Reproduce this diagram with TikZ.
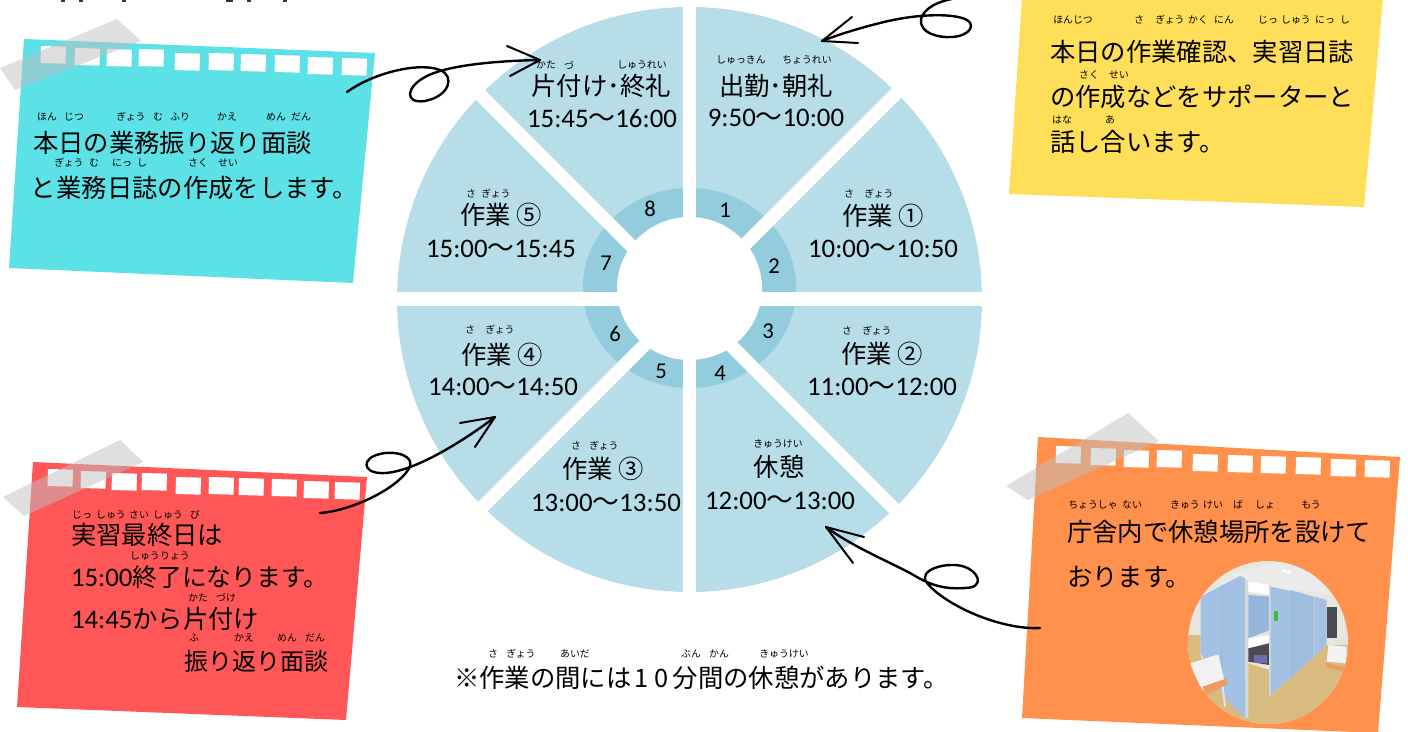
\documentclass[tikz,border=0pt]{standalone}
\usepackage{fontspec}
\setmainfont{Carlito}
\newfontfamily\cjk{Noto Sans CJK JP}
\usetikzlibrary{arrows.meta,calc}
\definecolor{wheelLight}{HTML}{B7DDE8}
\definecolor{wheelDark}{HTML}{93CDDD}
\definecolor{noteCyan}{HTML}{5CE1E6}
\definecolor{noteYellow}{HTML}{FFDE59}
\definecolor{noteRed}{HTML}{FF5757}
\definecolor{noteOrange}{HTML}{FF914D}
\definecolor{phWall}{HTML}{A3C1E2}
\definecolor{phWallB}{HTML}{94B6DC}
\definecolor{phFloor}{HTML}{D9BB80}
\definecolor{phBack}{HTML}{E9E6DF}
\definecolor{phSeat}{HTML}{EE9A62}
\definecolor{phDark}{HTML}{4A4A55}
\definecolor{phPurple}{HTML}{6E6BB0}
\tikzset{
  x=0.75pt,y=-0.75pt,
  base/.style={inner sep=0pt,outer sep=0pt,text=black},
  jp/.style={base,anchor=west,font=\cjk\fontsize{19}{19}\selectfont},
  jpc/.style={base,anchor=center,font=\cjk\fontsize{19}{19}\selectfont},
  tm/.style={base,anchor=center,font=\fontsize{20.1}{20.1}\selectfont},
  num/.style={base,anchor=center,font=\fontsize{17}{17}\selectfont},
  ruby/.style={base,anchor=center,font=\cjk\fontsize{7.4}{7.4}\selectfont},
  spoke/.style={draw=white,line width=10pt},
  hole/.style={fill=white,draw=none},
  tape/.style={fill=black!25,fill opacity=.5,draw=none},
  scribble/.style={draw=black,line width=1.8pt,line cap=round,line join=round},
  barb/.style={draw=black,line width=1.5pt,line cap=round},
}
\newcommand{\rb}[3]{\node[ruby] at (#1,#2) {#3};}
\newcommand{\hl}[2]{\fill[hole,rotate around={-1.5:(#1,#2)}] (#1,#2) rectangle ++(25,17);}
\newcommand{\wv}{{\cjk 〜}}
\begin{document}
\begin{tikzpicture}
\useasboundingbox (0,0) rectangle (1408,731);
\clip (0,0) rectangle (1408,731);
% ---------- title fragments at the top edge
\foreach \a/\b in {61/65,79/83,122/126,226/233,247/251,283/287}
  \fill[black!80] (\a,0) rectangle (\b,2);
% ---------- wheel
\coordinate (hub) at (689.5,299.5);
\fill[wheelLight] (hub) circle [radius=292.5];
\fill[wheelDark] (689.5,288) ellipse [x radius=106.7,y radius=100];
\fill[white] (689.5,288.5) ellipse [x radius=72.5,y radius=71.5];
\draw[spoke] (689.5,-10) -- (689.5,610);
\draw[spoke] (380,299) -- (1000,299);
\draw[spoke] (1000,-10.5) -- (380,609.5);
\draw[spoke] (380,-5.5) -- (1000,614.5);
% sector labels
\rb{741}{60}{しゅっきん}\rb{807}{60}{ちょうれい}
\node[jpc] (s1) at (776,86) {出勤･朝礼};
\node[tm] (t1) at (776,118) {9:50\wv10:00};
\rb{849}{194}{さ}\rb{879}{194}{ぎょう}
\node[jpc] (s2) at (883,216) {作業 ①};
\node[tm] (t2) at (883,249) {10:00\wv10:50};
\rb{847}{331}{さ}\rb{877}{331}{ぎょう}
\node[jpc] (s3) at (882,354) {作業 ②};
\node[tm] (t3) at (882,387) {11:00\wv12:00};
\rb{778}{444}{きゅうけい}
\node[jpc] (s4) at (779,467) {休憩};
\node[tm] (t4) at (780,501) {12:00\wv13:00};
\rb{576}{446}{さ}\rb{604}{446}{ぎょう}
\node[jpc] (s5) at (603,469) {作業 ③};
\node[tm] (t5) at (606,503) {13:00\wv13:50};
\rb{470}{330}{さ}\rb{500}{330}{ぎょう}
\node[jpc] (s6) at (502,355) {作業 ④};
\node[tm] (t6) at (503,387) {14:00\wv14:50};
\rb{471}{194}{さ}\rb{496}{194}{ぎょう}
\node[jpc] (s7) at (501,215) {作業 ⑤};
\node[tm] (t7) at (501,249) {15:00\wv15:45};
\rb{546}{65}{かた}\rb{569}{65}{づ}\rb{642}{65}{しゅうれい}
\node[jpc] (s8) at (601,86) {片付け･終礼};
\node[tm] (t8) at (602,119) {15:45\wv16:00};
\node[num] (n1) at (725,210) {1};
\node[num] (n2) at (774,266) {2};
\node[num] (n3) at (768,331) {3};
\node[num] (n4) at (720,373) {4};
\node[num] (n5) at (661,371) {5};
\node[num] (n6) at (615,334) {6};
\node[num] (n7) at (606,263) {7};
\node[num] (n8) at (650,209) {8};
% ---------- cyan note
\fill[noteCyan] (24,39) -- (375,53) -- (353,283) -- (9,268) -- cycle;
\hl{41}{46}\hl{75}{48}\hl{107}{49}\hl{139}{49}\hl{175}{53}\hl{209}{53}\hl{241}{54}\hl{275}{55}\hl{308}{57}\hl{342}{58}
\fill[tape] (0,68) -- (117,19) -- (141,41) -- (15,90) -- cycle;
\rb{47}{117}{ほん}\rb{74}{117}{じつ}\rb{131}{117}{ぎょう}\rb{158}{117}{む}\rb{180}{117}{ふり}\rb{227}{117}{かえ}\rb{276}{117}{めん}\rb{301}{117}{だん}
\node[jp] (c1) at (33,143) {本日の業務振り返り面談};
\rb{69}{163}{ぎょう}\rb{94}{163}{む}\rb{122}{163}{にっ}\rb{142}{163}{し}\rb{198}{163}{さく}\rb{228}{163}{せい}
\node[jp] (c2) at (31,188) {と業務日誌の作成をします。};
% ---------- yellow note
\fill[noteYellow] (1022,-2) -- (1383,-2) -- (1364,207) -- (1009,194) -- cycle;
\rb{1073}{20}{ほんじつ}\rb{1139}{20}{さ}\rb{1170}{20}{ぎょう}\rb{1198}{20}{かく}\rb{1224}{20}{にん}\rb{1268}{20}{じっ}\rb{1296}{20}{しゅう}\rb{1325}{20}{にっ}\rb{1345}{20}{し}
\node[jp] (y1) at (1050,52) {本日の作業確認、実習日誌};
\rb{1089}{75}{さく}\rb{1119}{75}{せい}
\node[jp] (y2) at (1050,97) {の作成などをサポーターと};
\rb{1062}{120}{はな}\rb{1110}{120}{あ}
\node[jp] (y3) at (1050,142) {話し合います。};
% ---------- red note
\fill[noteRed] (33,462) -- (367,477) -- (346,720) -- (17,707) -- cycle;
\hl{48}{469}\hl{81}{471}\hl{112}{473}\hl{142}{473}\hl{176}{477}\hl{209}{477}\hl{239}{478}\hl{272}{479}\hl{304}{481}\hl{335}{482}
\fill[tape] (3,497) -- (120,440) -- (143,462) -- (24,516) -- cycle;
\rb{82}{515}{じっ}\rb{111}{515}{しゅう}\rb{139}{515}{さい}\rb{168}{515}{しゅう}\rb{195}{515}{び}
\node[jp] (r1) at (71,535) {実習最終日は};
\rb{145}{556}{しゅう}\rb{175}{556}{りょう}
\node[jp] (r2) at (71,577) {\fontspec{Carlito}\fontsize{20.1}{20.1}\selectfont 15:00{\cjk\fontsize{18.6}{18.6}\selectfont 終了になります。}};
\rb{198}{598}{かた}\rb{226}{598}{づけ}
\node[jp] (r3) at (71,619) {\fontspec{Carlito}\fontsize{20.1}{20.1}\selectfont 14:45{\cjk\fontsize{19}{19}\selectfont から片付け}};
\rb{194}{638}{ふ}\rb{244}{638}{かえ}\rb{287}{638}{めん}\rb{315}{638}{だん}
\node[jp,font=\cjk\fontsize{18}{18}\selectfont] (r4) at (184,661) {振り返り面談};
% ---------- orange note
\fill[noteOrange] (1038,437) -- (1400,457) -- (1378,733) -- (1022,718) -- cycle;
\hl{1056}{446}\hl{1091}{448}\hl{1124}{450}\hl{1157}{450}\hl{1193}{454}\hl{1228}{455}\hl{1261}{456}\hl{1296}{457}\hl{1331}{459}\hl{1365}{460}
\fill[tape] (1006,486) -- (1128,413) -- (1159,441) -- (1028,500) -- cycle;
\rb{1093}{505}{ちょうしゃ}\rb{1132}{505}{ない}\rb{1185}{505}{きゅう}\rb{1213}{505}{けい}\rb{1238}{505}{ば}\rb{1265}{505}{しょ}\rb{1311}{505}{もう}
\node[jp] (o1) at (1067,532) {庁舎内で休憩場所を設けて};
\node[jp] (o2) at (1067,577) {おります。};
% photo in the orange note
\begin{scope}[shift={(1180,550)},x=0.25pt,y=-0.25pt]
\clip (264,277.5) ellipse [x radius=240,y radius=244.5];
\fill[phBack] (0,0) rectangle (540,540);
\fill[white!92!black] (110,100) -- (190,60) -- (300,38) -- (400,70) -- (445,130) -- cycle;
\fill[white] (305,58) -- (335,65) -- (330,72) -- (305,65) -- cycle;
\fill[phDark] (442,170) rectangle (472,265);
\fill[white!88!black] (465,270) rectangle (510,292);
% floor
\fill[phFloor] (20,255) -- (62,255) -- (62,320) -- (195,505) -- (272,437) -- (440,285) -- (510,285) -- (510,540) -- (20,540) -- cycle;
% partitions
\fill[phWall] (62,140) -- (180,78) -- (195,85) -- (197,505) -- (135,445) -- (62,310) -- cycle;
\fill[phWallB] (125,105) -- (128,105) -- (128,400) -- (125,395) -- cycle;
\fill[white!85!black] (195,85) -- (205,92) -- (205,505) -- (197,505) -- cycle;
\fill[white] (205,95) -- (270,105) -- (270,135) -- (205,125) -- cycle;
\fill[phWallB] (205,135) -- (270,140) -- (270,240) -- (205,265) -- cycle;
\fill[white] (205,265) -- (270,255) -- (270,275) -- (205,295) -- cycle;
\fill[phDark] (205,295) -- (268,280) -- (268,345) -- (205,335) -- cycle;
\fill[phPurple] (222,315) -- (262,315) -- (262,338) -- (222,338) -- cycle;
\fill[phFloor] (205,340) -- (268,360) -- (268,440) -- (205,500) -- cycle;
\fill[white!85!black] (268,105) rectangle (274,437);
\fill[phWall] (272,110) -- (330,122) -- (330,385) -- (272,435) -- cycle;
\fill[phWallB!90!white] (330,120) -- (402,140) -- (402,320) -- (330,385) -- cycle;
\fill[phWall] (405,140) -- (440,150) -- (440,285) -- (405,318) -- cycle;
\fill[white!80!black] (402,140) rectangle (405,318);
\fill[green!45!gray] (282,182) rectangle (293,212);
% chairs
\fill[white!95!black] (30,340) -- (115,313) -- (135,400) -- (70,430) -- cycle;
\fill[phSeat] (68,410) -- (140,385) -- (140,405) -- (75,435) -- cycle;
\draw[white!90!black,line width=1.5pt] (128,410) -- (135,470);
\fill[white!95!black] (445,285) -- (500,290) -- (500,340) -- (440,335) -- cycle;
\fill[phSeat] (437,338) -- (495,352) -- (493,365) -- (437,350) -- cycle;
\end{scope}
% ---------- note at the bottom
\rb{493}{654}{さ}\rb{521}{654}{ぎょう}\rb{575}{654}{あいだ}\rb{691}{654}{ぶん}\rb{719}{654}{かん}\rb{784}{654}{きゅうけい}
\node[jp] (foot) at (454,678) {※作業の間には\kern2pt 1\kern5pt 0\kern3pt 分間の休憩があります。};
% ---------- scribbled arrows
\coordinate (a1s) at (347,92); \coordinate (a1e) at (540,60);
\draw[scribble] (a1s) .. controls (375,72) and (420,62) .. (440,70)
  .. controls (455,76) and (450,96) .. (425,101)
  .. controls (405,104) and (405,88) .. (425,77)
  .. controls (445,66) and (490,61) .. (a1e);
\draw[barb] (a1e) -- (507,46); \draw[barb] (a1e) -- (510,76);
\coordinate (a2s) at (957,-2); \coordinate (a2e) at (822,41);
\draw[scribble] (a2s) .. controls (938,1) and (924,8) .. (921,19)
  .. controls (919,33) and (938,38) .. (952,37)
  .. controls (970,36) and (977,24) .. (965,19)
  .. controls (950,13) and (915,14) .. (880,23)
  .. controls (860,28) and (840,34) .. (a2e);
\draw[barb] (a2e) -- (852,17); \draw[barb] (a2e) -- (858,43);
\coordinate (a3s) at (1040,628); \coordinate (a3e) at (826,527);
\draw[scribble] (a3s) .. controls (1000,630) and (945,605) .. (927,583)
  .. controls (917,570) and (945,562) .. (962,566)
  .. controls (980,571) and (985,588) .. (965,588)
  .. controls (940,590) and (925,582) .. (910,573)
  .. controls (885,560) and (850,545) .. (a3e);
\draw[barb] (a3e) -- (864,537); \draw[barb] (a3e) -- (853,563);
\coordinate (a4s) at (320,513); \coordinate (a4e) at (495,417);
\draw[scribble] (a4s) .. controls (350,511) and (395,490) .. (408,470)
  .. controls (418,456) and (395,450) .. (380,454)
  .. controls (362,458) and (362,472) .. (380,473)
  .. controls (410,475) and (465,440) .. (a4e);
\draw[barb] (a4e) -- (460,423); \draw[barb] (a4e) -- (475,447);
\end{tikzpicture}
\end{document}
